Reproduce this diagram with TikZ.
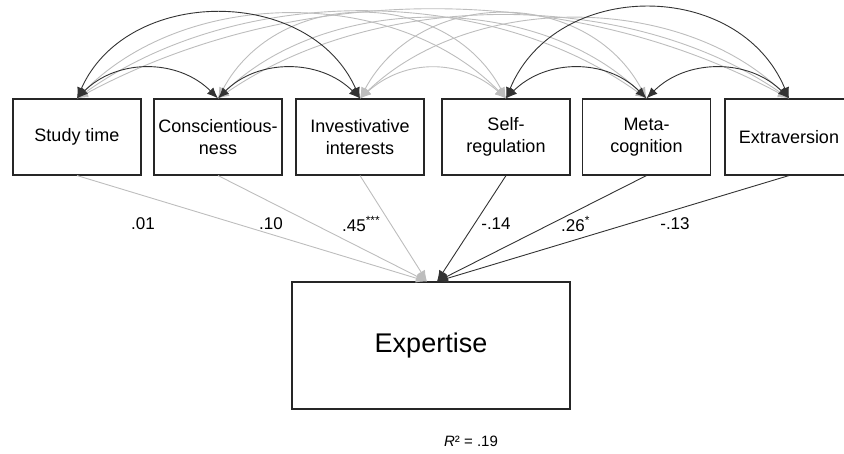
\documentclass[tikz,border=0pt]{standalone}
\usepackage{fontspec}
\setmainfont{Liberation Sans}
\usetikzlibrary{arrows.meta}
\definecolor{lightline}{HTML}{BDBDBD}
\definecolor{darkline}{HTML}{333333}
\begin{document}
\begin{tikzpicture}[x=1pt,y=-1pt,
  var/.style={draw=black!85,line width=1.1pt,minimum width=128pt,minimum height=76pt,
    inner sep=0pt,align=center,font=\fontsize{18}{22}\selectfont},
  outcome/.style={draw=black!85,line width=1.1pt,minimum width=278pt,minimum height=127pt,
    inner sep=0pt,font=\fontsize{27}{32}\selectfont},
  tip/.style={Latex[length=11pt,width=9pt]},
  covlight/.style={draw=lightline,line width=0.9pt,{Latex[length=11pt,width=9pt]}-{Latex[length=11pt,width=9pt]}},
  covdark/.style={draw=darkline,line width=0.9pt,{Latex[length=11pt,width=9pt]}-{Latex[length=11pt,width=9pt]}},
  reglight/.style={draw=lightline,line width=0.9pt,-{Latex[length=11pt,width=9pt]}},
  regdark/.style={draw=darkline,line width=0.9pt,-{Latex[length=11pt,width=9pt]}},
  coef/.style={font=\fontsize{17}{20}\selectfont,inner sep=0pt}]
\useasboundingbox (0,0) rectangle (844,453);
\clip (0,0) rectangle (844,453);

% predictors
\node[var] (st) at (77,137) {Study time};
\node[var] (co) at (218,137) {Conscientious-\\ness};
\node[var] (iv) at (360,137) {Investivative\\interests};
\node[var] (sr) at (506,137) {Self-\\regulation};
\node[var] (mc) at (646.5,137) {Meta-\\cognition};
\node[var] (ex) at (789,137) {Extraversion};

% outcome
\node[outcome] (xp) at (431,345.5) {Expertise};
\node[font=\fontsize{15}{18}\selectfont] (r2) at (471,441) {\textit{R}² = .19};

\coordinate (xg) at ([xshift=-4pt]xp.north);
\coordinate (xd) at ([xshift=6pt]xp.north);

% covariances (light ones first)
\draw[covlight] (iv.north) .. controls +(45,-40) and +(-45,-40) .. (sr.north);
\draw[covlight] (co.north) .. controls +(60,-112) and +(-60,-112) .. (sr.north);
\draw[covlight] (iv.north) .. controls +(60,-112) and +(-60,-112) .. (mc.north);
\draw[covlight] (st.north) .. controls +(110,-112) and +(-110,-112) .. (sr.north);
\draw[covlight] (co.north) .. controls +(110,-106) and +(-110,-106) .. (mc.north);
\draw[covlight] (iv.north) .. controls +(110,-106) and +(-110,-106) .. (ex.north);
\draw[covlight] (st.north) .. controls +(160,-115) and +(-160,-115) .. (mc.north);
\draw[covlight] (co.north) .. controls +(160,-110) and +(-160,-110) .. (ex.north);
\draw[covlight] (st.north) .. controls +(220,-118) and +(-220,-118) .. (ex.north);

\draw[covdark] (st.north) .. controls +(40,-40) and +(-40,-40) .. (co.north);
\draw[covdark] (co.north) .. controls +(40,-40) and +(-40,-40) .. (iv.north);
\draw[covdark] (sr.north) .. controls +(40,-40) and +(-40,-40) .. (mc.north);
\draw[covdark] (mc.north) .. controls +(40,-40) and +(-40,-40) .. (ex.north);
\draw[covdark] (st.north) .. controls +(50,-113) and +(-50,-113) .. (iv.north);
\draw[covdark] (sr.north) .. controls +(50,-120) and +(-50,-120) .. (ex.north);

% regressions
\draw[reglight] (st.south) -- (xg);
\draw[reglight] (co.south) -- (xg);
\draw[reglight] (iv.south) -- (xg);
\draw[regdark] (sr.south) -- (xd);
\draw[regdark] (mc.south) -- (xd);
\draw[regdark] (ex.south) -- (xd);

% coefficients
\node[coef] (c1) at (143,224) {.01};
\node[coef] (c2) at (271,224) {.10};
\node[coef,anchor=west] (c3) at (342,224) {.45\textsuperscript{***}};
\node[coef] (c4) at (496,224) {-.14};
\node[coef,anchor=west] (c5) at (561,224) {.26\textsuperscript{*}};
\node[coef] (c6) at (675,224) {-.13};
\end{tikzpicture}
\end{document}
